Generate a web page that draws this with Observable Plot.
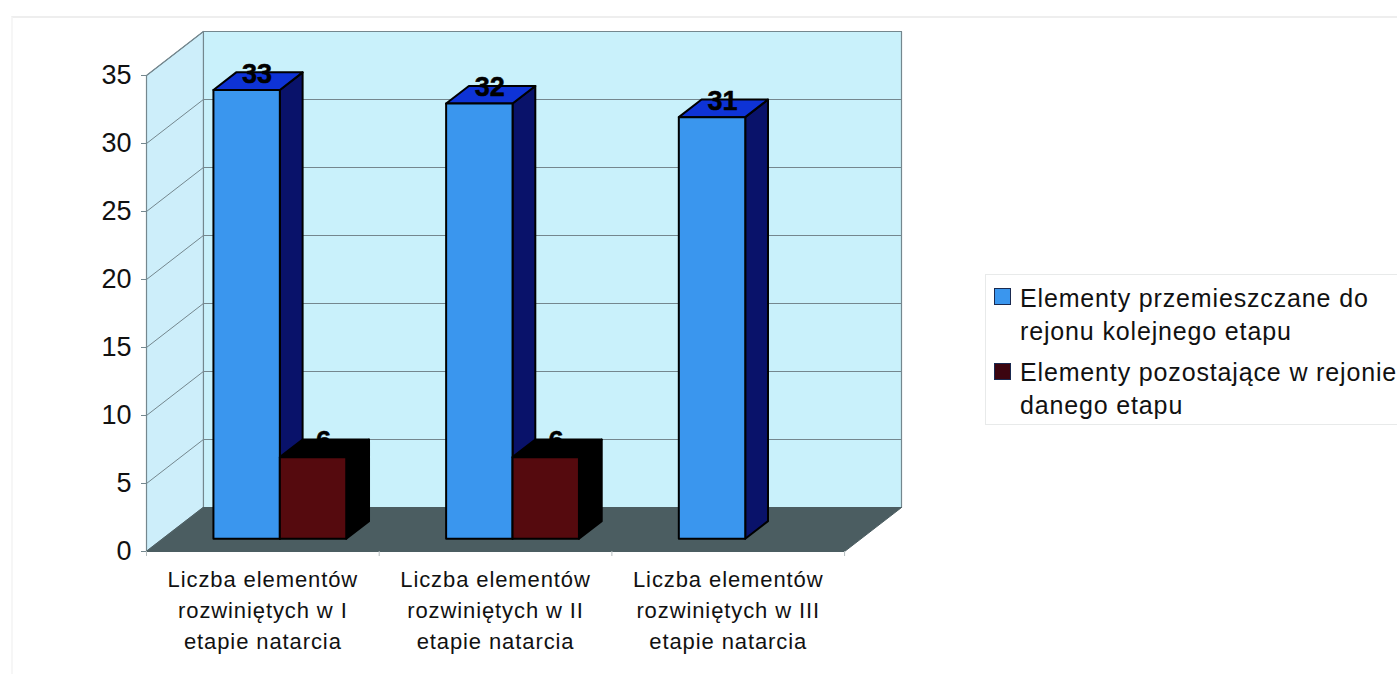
<!DOCTYPE html>
<html lang="pl">
<head>
<meta charset="utf-8">
<script src="https://cdn.jsdelivr.net/npm/d3@7"></script>
<script src="https://cdn.jsdelivr.net/npm/@observablehq/plot@0.6"></script>
<style>
  html, body { margin: 0; padding: 0; background: #fff; }
  #page { position: relative; width: 1397px; height: 674px; overflow: hidden; font-family: "Liberation Sans", Arial, sans-serif; color: #111; }
  #page svg { position: absolute; left: 0; top: 0; }
  /* the multi-line category captions are the only texts broken into tspans */
  #page svg text:has(tspan) { letter-spacing: 0.9px; }
  #frame { position: absolute; left: 11px; top: 16px; right: 0; bottom: 0; border-left: 2px solid #f6f6f6; border-top: 2px solid #eeeeee; }
  #legend { position: absolute; left: 985px; top: 274px; width: 420px; height: 149px; border: 1px solid #e8eaea; background: #fff; font-size: 25px; }
  #legend .row { position: absolute; left: 34px; line-height: 32.5px; white-space: pre; letter-spacing: 0.85px; }
  #legend .key { position: absolute; left: 8px; width: 15px; height: 15px; border: 1.5px solid #1a2a50; box-sizing: content-box; }
</style>
</head>
<body>
<div id="page"><div id="frame"></div></div>
<script>
// Chart values
const categories = [
  "Liczba elementów\nrozwiniętych w I\netapie natarcia",
  "Liczba elementów\nrozwiniętych w II\netapie natarcia",
  "Liczba elementów\nrozwiniętych w III\netapie natarcia"
];
const movedValues = [33, 32, 31];
const remainingValues = [6, 6, null];
const seriesNames = [
  "Elementy przemieszczane do\nrejonu kolejnego etapu",
  "Elementy pozostające w rejonie\ndanego etapu"
];
const yTicks = [0, 5, 10, 15, 20, 25, 30, 35];

// Oblique projection: depth 0 is the front edge of the floor, depth 1 the back wall.
const DEPTH_X = 0.2446;  // in category units
const DEPTH_Y = 3.235;   // in value units
const project = (c, v, d) => ({x: c + d * DEPTH_X, y: v + d * DEPTH_Y});

const BAR_WIDTH = 0.2854, BAR_START = 0.2167;
const BAR_FRONT = 0.29, BAR_BACK = 0.69;

const polygon = (corners, fill, stroke, strokeWidth = 2) =>
  Plot.line(corners.map(([c, v, d]) => project(c, v, d)), {
    x: "x", y: "y", curve: "linear-closed", fill, stroke, strokeWidth
  });

// A bar is three visible faces: front, top and right side.
function bar(c0, value, front, top, side) {
  const c1 = c0 + BAR_WIDTH;
  return [
    polygon([[c1, 0, BAR_FRONT], [c1, 0, BAR_BACK], [c1, value, BAR_BACK], [c1, value, BAR_FRONT]], side, "#000"),
    polygon([[c0, value, BAR_FRONT], [c1, value, BAR_FRONT], [c1, value, BAR_BACK], [c0, value, BAR_BACK]], top, "#000"),
    polygon([[c0, 0, BAR_FRONT], [c1, 0, BAR_FRONT], [c1, value, BAR_FRONT], [c0, value, BAR_FRONT]], front, "#000")
  ];
}

const nCat = categories.length, yMax = 35;
const COLORS = {
  wall: "#c9f1fb", side: "#cdeefa", floor: "#4b5d61", grid: "#74878e",
  blue: "#3a96ee", blueTop: "#0e33d6", blueSide: "#09126a",
  red: "#550a0e", redTop: "#000", redSide: "#000", redKey: "#3c0510"
};

const gridY = yTicks.filter((t) => t > 0);
const valueLabel = (c, v) => ({...project(c + BAR_WIDTH / 2, v, (BAR_FRONT + BAR_BACK) / 2), label: String(v)});
const movedLabels = movedValues.map((v, i) => valueLabel(i + BAR_START, v));
const remainingLabels = remainingValues.flatMap((v, i) => v == null ? [] : [valueLabel(i + BAR_START + BAR_WIDTH, v)]);
const labelStyle = {
  x: "x", y: "y", text: "label", dy: -7, dx: -1, fontSize: 27, fontWeight: "bold", fill: "#000",
  stroke: "#000", strokeWidth: 0.5
};

const chart = Plot.plot({
  width: 1397, height: 674,
  marginLeft: 146, marginRight: 1397 - 901, marginTop: 31, marginBottom: 123,
  x: {domain: [0, nCat + DEPTH_X]},
  y: {domain: [0, yMax + DEPTH_Y]},
  style: {background: "transparent", fontFamily: "'Liberation Sans', Arial, sans-serif", overflow: "visible"},
  marks: [
    // walls and floor
    polygon([[0, 0, 1], [nCat, 0, 1], [nCat, yMax, 1], [0, yMax, 1]], COLORS.wall, COLORS.grid, 1.2),
    polygon([[0, 0, 0], [0, 0, 1], [0, yMax, 1], [0, yMax, 0]], COLORS.side, COLORS.grid, 1.2),
    polygon([[0, 0, 0], [nCat, 0, 0], [nCat, 0, 1], [0, 0, 1]], COLORS.floor, COLORS.floor, 1),
    // gridlines along the back wall and the side wall
    Plot.line(gridY.flatMap((t) => [project(0, t, 1), project(nCat, t, 1)].map((p) => ({...p, t}))),
      {x: "x", y: "y", z: "t", stroke: COLORS.grid, strokeWidth: 1.1}),
    Plot.line(gridY.flatMap((t) => [project(0, t, 0), project(0, t, 1)].map((p) => ({...p, t}))),
      {x: "x", y: "y", z: "t", stroke: COLORS.grid, strokeWidth: 1}),
    // axes
    Plot.axisY({ticks: yTicks, tickSize: 5, tickPadding: 10, fontSize: 27, label: null, stroke: COLORS.grid, fill: "#111"}),
    Plot.axisX({ticks: d3.range(nCat + 1), tickSize: 5, tickFormat: () => "", label: null, stroke: "#b5bdbf"}),
    Plot.text(categories, {
      x: (d, i) => i + 0.5, y: 0, text: (d) => d, dy: 14, lineAnchor: "top",
      lineHeight: 1.4, fontSize: 22, fill: "#111"
    }),
    // blue columns with their value labels, then the red columns in front of theirs
    movedValues.flatMap((v, i) => bar(i + BAR_START, v, COLORS.blue, COLORS.blueTop, COLORS.blueSide)),
    Plot.text(movedLabels, labelStyle),
    Plot.text(remainingLabels, labelStyle),
    remainingValues.flatMap((v, i) => v == null ? [] : bar(i + BAR_START + BAR_WIDTH, v, COLORS.red, COLORS.redTop, COLORS.redSide))
  ]
});
const page = document.getElementById("page");
page.appendChild(chart);

// Legend box to the right of the plot
const legend = document.createElement("div");
legend.id = "legend";
const keyFill = [COLORS.blue, COLORS.redKey];
const keyTops = [13, 88], rowTops = [7, 81];
seriesNames.forEach((name, i) => {
  const key = document.createElement("div");
  key.className = "key";
  key.style.top = keyTops[i] + "px";
  key.style.background = keyFill[i];
  legend.appendChild(key);
  const row = document.createElement("div");
  row.className = "row";
  row.style.top = rowTops[i] + "px";
  row.textContent = name;
  legend.appendChild(row);
});
page.appendChild(legend);
</script>
</body>
</html>
